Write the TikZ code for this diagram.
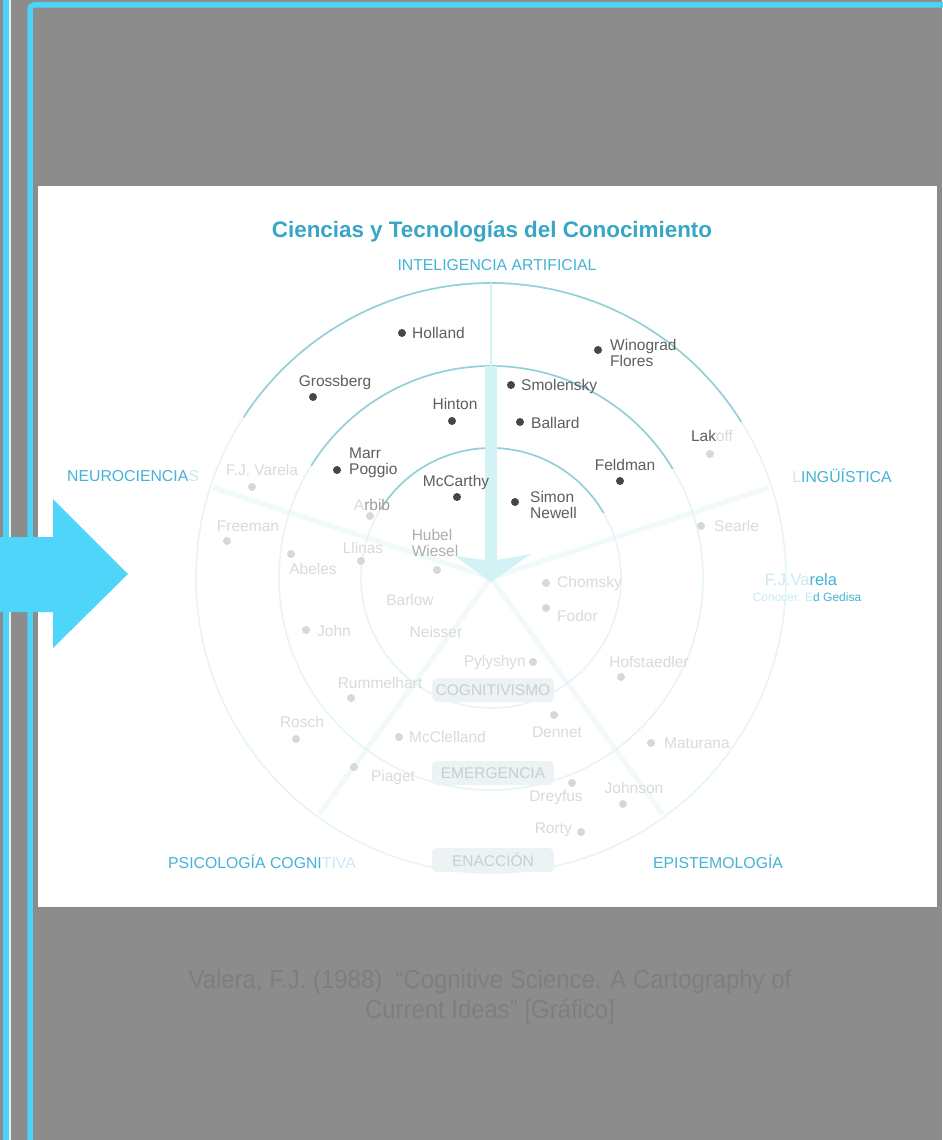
\documentclass[tikz,border=0pt]{standalone}
\usepackage{fontspec}
\setmainfont{Liberation Sans}
\definecolor{bggray}{HTML}{8C8C8C}
\definecolor{lineblue}{HTML}{4DD3F8}
\definecolor{arrowblue}{HTML}{4FD4FA}
\definecolor{titleblue}{HTML}{38A6C6}
\definecolor{catblue}{HTML}{45B3D6}
\definecolor{catfaint}{HTML}{C8EAF4}
\definecolor{darktext}{HTML}{5E5E5E}
\definecolor{darkdot}{HTML}{464646}
\definecolor{fainttext}{HTML}{DADADA}
\definecolor{faintdot}{HTML}{D8D8D8}
\definecolor{ringc}{HTML}{E5F4F6}
\definecolor{arcc}{HTML}{90D0D6}
\definecolor{spokec}{HTML}{F1F9FA}
\definecolor{bandc}{HTML}{D2F2F6}
\definecolor{boxfill}{HTML}{EDF2F5}
\definecolor{boxtext}{HTML}{C9CED2}
\definecolor{citec}{HTML}{7E7E7E}
\tikzset{
  nm/.style={font=\fontsize{15.5}{16}\selectfont, text=darktext, inner sep=0pt, align=left},
  fnm/.style={font=\fontsize{15.5}{16}\selectfont, text=fainttext, inner sep=0pt, align=left},
  dk/.style={circle, fill=darkdot, minimum size=8pt, inner sep=0pt},
  fdk/.style={circle, fill=faintdot, minimum size=8pt, inner sep=0pt},
  cat/.style={font=\fontsize{15.8}{16}\selectfont, text=catblue, inner sep=0pt},
  stage/.style={rounded corners=6pt, fill=boxfill, minimum width=122pt, minimum height=24pt, inner sep=0pt, text=boxtext, font=\fontsize{15.5}{16}\selectfont},
  ring/.style={draw=ringc, line width=1.5pt},
  hiarc/.style={draw=arcc, line width=1.6pt},
  spoke/.style={draw=spokec, line width=5pt},
}
\begin{document}
\begin{tikzpicture}[x=1pt,y=-1pt]
\useasboundingbox (0,0) rectangle (942,1140);
% background and frame
\fill[bggray] (0,0) rectangle (942,1140);
\fill[lineblue] (3,0) rectangle (8.5,1140);
\fill[white!88!gray] (9,0) rectangle (10.5,1140);
\draw[lineblue, line width=5.5pt, rounded corners=4pt] (30,1145) -- (30,5) -- (947,5);
\fill[white] (38,186) rectangle (937,907);
% chart geometry
\coordinate (c) at (491,578);
\draw[spoke] (c) -- ++(-18:292) coordinate (sL);
\draw[spoke] (c) -- ++(-162:292) coordinate (sN);
\draw[spoke] (c) -- ++(126:292) coordinate (sP);
\draw[spoke] (c) -- ++(54:292) coordinate (sE);
\draw[ring] (c) circle[radius=130];
\draw[ring] (c) circle[radius=212];
\draw[ring] (c) circle[radius=295];
\draw[hiarc] (c) ++(-148:130) arc[start angle=-148, end angle=-30, radius=130];
\draw[hiarc] (c) ++(-148:212) arc[start angle=-148, end angle=-31, radius=212];
\draw[hiarc] (c) ++(-147:295) arc[start angle=-147, end angle=-32, radius=295];
% vertical AI spoke with chevron
\coordinate (vtop) at (491,283);
\coordinate (vmid) at (491,366);
\coordinate (vlow) at (491,560);
\coordinate (vtip) at (491,582);
\draw[bandc, line width=2.5pt] (vtop) -- (vmid);
\draw[bandc, line width=12pt] (vmid) -- (vlow);
\fill[bandc] (455,556) -- (vtip) -- (531,554) -- (497,560) -- (485,560) -- cycle;
% titles
\node[font=\fontsize{22.4}{24}\selectfont\bfseries, text=titleblue, inner sep=0pt] (title) at (492,232) {Ciencias y Tecnologías del Conocimiento};
\node[cat] (ia) at (497,265) {INTELIGENCIA ARTIFICIAL};
\node[cat] (neuro) at (133,476) {NEUROCIENCIA\textcolor{catfaint}{S}};
\node[cat] (ling) at (842,476) {\textcolor{catfaint}{L}INGÜÍSTICA};
\node[cat] (psico) at (262,862) {PSICOLOGÍA COGNI\textcolor{catfaint}{TIVA}};
\node[cat] (epist) at (718,862) {EPISTEMOLOGÍA};
\node[cat, font=\fontsize{16.5}{17}\selectfont] (varela) at (801,580) {\textcolor{catfaint}{F.J.Va}rela};
\node[cat, font=\fontsize{12}{13}\selectfont] (gedisa) at (807,597) {\textcolor{catfaint}{Conocer. E}d Gedisa};
% stages
\node[stage] (cog) at (493,690) {COGNITIVISMO};
\node[stage] (emer) at (493,773) {EMERGENCIA};
\node[stage] (enac) at (493,860) {ENACCIÓN};
% dark names
\node[dk] (hollandD) at (402,333) {};
\node[nm, anchor=west] (hollandT) at (412,333) {Holland};
\node[dk] (winoD) at (598,350) {};
\node[nm, anchor=west] (winoT) at (610,353) {Winograd\\Flores};
\node[nm] (grossT) at (335,382) {Grossberg};
\node[dk] (grossD) at (313,397) {};
\node[dk] (smolD) at (511,385) {};
\node[nm, anchor=west] (smolT) at (521,386) {Smolensky};
\node[nm] (hintT) at (455,404) {Hinton};
\node[dk] (hintD) at (452,421) {};
\node[dk] (ballD) at (520,422) {};
\node[nm, anchor=west] (ballT) at (531,423) {Ballard};
\node[nm] (lakT) at (712,436) {Lak\textcolor{fainttext}{off}};
\node[fdk] (lakD) at (710,454) {};
\node[dk] (marrD) at (337,470) {};
\node[nm, anchor=west] (marrT) at (349,463) {Marr\\Poggio};
\node[nm] (feldT) at (625,465) {Feldman};
\node[dk] (feldD) at (620,481) {};
\node[nm] (mccT) at (456,482) {McCarthy};
\node[dk] (mccD) at (457,497) {};
\node[dk] (simD) at (515,502) {};
\node[nm, anchor=west] (simT) at (530,505) {Simon\\Newell};
% faint names
\node[fnm] (fjvT) at (262,470) {F.J. Varela};
\node[fdk] (fjvD) at (252,487) {};
\node[fnm] (arbT) at (372,505) {A\textcolor{darktext!60}{rbib}};
\node[fdk] (arbD) at (370,516) {};
\node[fnm] (freeT) at (248,526) {Freeman};
\node[fdk] (freeD) at (227,541) {};
\node[fdk] (searD) at (701,526) {};
\node[fnm, anchor=west] (searT) at (714,526) {Searle};
\node[fnm, text=darktext!50] (hubT) at (435,543) {Hubel\\Wiesel};
\node[fdk] (hubD) at (437,570) {};
\node[fnm] (llT) at (363,548) {Llinas};
\node[fdk] (llD) at (361,561) {};
\node[fdk] (abD) at (291,554) {};
\node[fnm] (abT) at (313,569) {Abeles};
\node[fdk] (chD) at (546,583) {};
\node[fnm, anchor=west] (chT) at (557,583) {Chomsky};
\node[fnm] (barT) at (410,600) {Barlow};
\node[fdk] (foD) at (546,608) {};
\node[fnm, anchor=west] (foT) at (557,616) {Fodor};
\node[fdk] (joD) at (306,630) {};
\node[fnm, anchor=west] (joT) at (317,631) {John};
\node[fnm] (neT) at (436,632) {Neisser};
\node[fnm, anchor=east] (pyT) at (526,662) {Pylyshyn};
\node[fdk] (pyD) at (533,662) {};
\node[fnm] (hoT) at (649,662) {Hofstaedler};
\node[fdk] (hoD) at (621,677) {};
\node[fnm] (ruT) at (380,683) {Rummelhart};
\node[fdk] (ruD) at (351,698) {};
\node[fnm] (roT) at (302,722) {Rosch};
\node[fdk] (roD) at (296,739) {};
\node[fdk] (deD) at (554,715) {};
\node[fnm] (deT) at (557,732) {Dennet};
\node[fdk] (mcD) at (399,737) {};
\node[fnm, anchor=west] (mcT) at (409,737) {McClelland};
\node[fdk] (maD) at (651,743) {};
\node[fnm, anchor=west] (maT) at (664,743) {Maturana};
\node[fdk] (piD) at (354,767) {};
\node[fnm] (piT) at (393,777) {Piaget};
\node[fdk] (drD) at (572,783) {};
\node[fnm] (drT) at (556,797) {Dreyfus};
\node[fnm] (jnT) at (634,788) {Johnson};
\node[fdk] (jnD) at (623,804) {};
\node[fnm, anchor=east] (rtT) at (572,830) {Rorty};
\node[fdk] (rtD) at (581,832) {};
% big arrow
\fill[arrowblue] (0,537) -- (53,537) -- (53,499) -- (128,574) -- (53,648) -- (53,612) -- (0,612) -- cycle;
% citation
\node[text=citec, font=\fontsize{26}{30}\selectfont, align=center, inner sep=0pt] (cite) at (490,997)
  {\scalebox{0.92}[1]{Valera, F.J. (1988)\ \ “Cognitive Science. A Cartography of}\\\scalebox{0.92}[1]{Current Ideas” [Gráfico]}};
\end{tikzpicture}
\end{document}
